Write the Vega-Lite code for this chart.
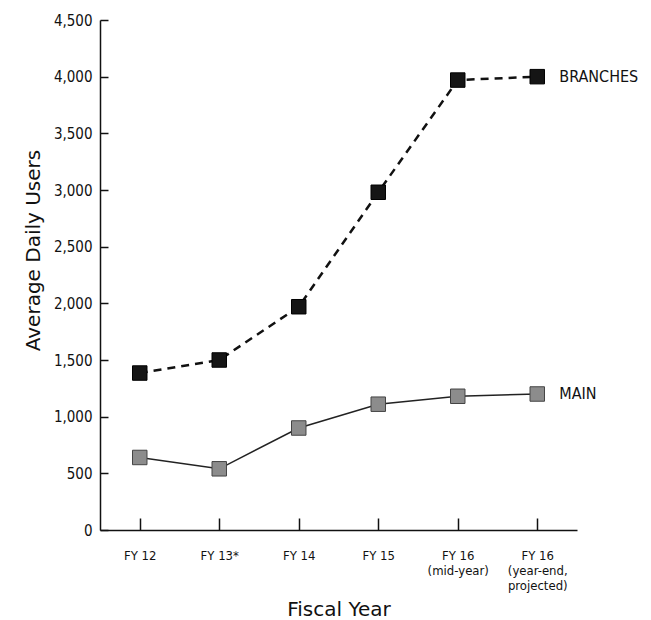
{
  "$schema": "https://vega.github.io/schema/vega-lite/v6.json",
  "autosize": {"type": "none"},
  "padding": {"left": 100, "top": 20, "right": 74, "bottom": 90},
  "width": 477,
  "height": 510,
  "background": "white",
  "config": {"view": {"stroke": null}},
  "data": {"values": [
    {"fy": "FY 12", "series": "BRANCHES", "users": 1385},
    {"fy": "FY 13*", "series": "BRANCHES", "users": 1500},
    {"fy": "FY 14", "series": "BRANCHES", "users": 1970},
    {"fy": "FY 15", "series": "BRANCHES", "users": 2980},
    {"fy": "FY 16|(mid-year)", "series": "BRANCHES", "users": 3970},
    {"fy": "FY 16|(year-end,|projected)", "series": "BRANCHES", "users": 4000},
    {"fy": "FY 12", "series": "MAIN", "users": 640},
    {"fy": "FY 13*", "series": "MAIN", "users": 540},
    {"fy": "FY 14", "series": "MAIN", "users": 900},
    {"fy": "FY 15", "series": "MAIN", "users": 1110},
    {"fy": "FY 16|(mid-year)", "series": "MAIN", "users": 1180},
    {"fy": "FY 16|(year-end,|projected)", "series": "MAIN", "users": 1200}
  ]},
  "encoding": {
    "x": {
      "field": "fy", "type": "ordinal", "sort": null,
      "scale": {"type": "point", "padding": 0.5},
      "axis": {
        "title": "Fiscal Year", "titleFont": "DejaVu Sans", "titleFontSize": 20, "titleFontWeight": "normal", "titleColor": "#111",
        "titleY": 69, "titleBaseline": "top",
        "labelExpr": "split(datum.label, '|')", "labelAngle": 0,
        "labelFont": "DejaVu Sans Condensed, Liberation Sans", "labelFontSize": 13, "labelColor": "#111", "labelLineHeight": 15,
        "labelPadding": 31,
        "domainColor": "#111", "domainWidth": 1.5, "tickColor": "#111", "tickSize": -12, "tickWidth": 1.5,
        "grid": false
      }
    },
    "y": {
      "field": "users", "type": "quantitative",
      "scale": {"domain": [0, 4500], "nice": false},
      "axis": {
        "title": "Average Daily Users", "titleFont": "DejaVu Sans", "titleFontSize": 20, "titleFontWeight": "normal", "titleColor": "#111", "titlePadding": 10, "titleY": 230,
        "values": [0, 500, 1000, 1500, 2000, 2500, 3000, 3500, 4000, 4500],
        "format": ",.0f",
        "labelFont": "DejaVu Sans Condensed, Liberation Sans", "labelFontSize": 15, "labelColor": "#111", "labelPadding": 16,
        "domainColor": "#111", "domainWidth": 1.5, "tickColor": "#111", "tickSize": -8, "tickWidth": 1.5,
        "grid": false
      }
    }
  },
  "layer": [
    {
      "mark": {"type": "line", "strokeWidth": 2.5, "strokeDash": [8, 6], "color": "#111"},
      "transform": [{"filter": "datum.series === 'BRANCHES'"}],
      "encoding": {}
    },
    {
      "mark": {"type": "line", "strokeWidth": 1.5, "color": "#222"},
      "transform": [{"filter": "datum.series === 'MAIN'"}],
      "encoding": {}
    },
    {
      "mark": {"type": "point", "shape": "square", "filled": true, "size": 210, "opacity": 1, "strokeWidth": 1},
      "encoding": {
        "fill": {"field": "series", "type": "nominal", "scale": {"domain": ["BRANCHES", "MAIN"], "range": ["#151515", "#8c8c8c"]}, "legend": null},
        "stroke": {"field": "series", "type": "nominal", "scale": {"domain": ["BRANCHES", "MAIN"], "range": ["#000000", "#444444"]}, "legend": null}
      }
    },
    {
      "mark": {"type": "text", "align": "left", "baseline": "middle", "dx": 22, "font": "DejaVu Sans Condensed, Liberation Sans", "fontSize": 16, "color": "#111"},
      "transform": [{"filter": "datum.fy === 'FY 16|(year-end,|projected)'"}],
      "encoding": {"text": {"field": "series"}}
    }
  ]
}
